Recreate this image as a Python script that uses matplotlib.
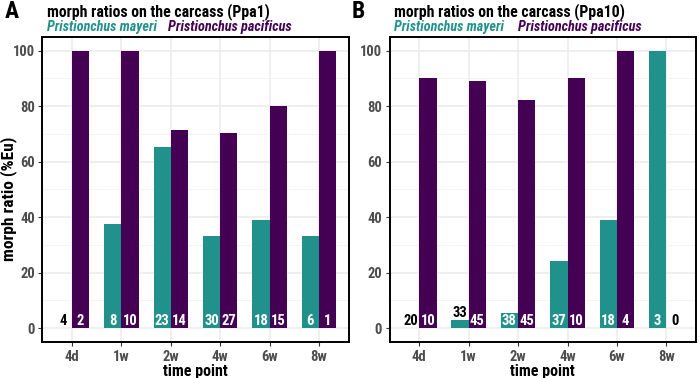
"""Morph ratios on the carcass, two panels (Ppa1 / Ppa10)."""

import matplotlib
matplotlib.use("Agg")

import matplotlib.pyplot as plt
from matplotlib import font_manager
from matplotlib.font_manager import FontProperties

# Data
time_points = ["4d", "1w", "2w", "4w", "6w", "8w"]

ppa1_mayeri = [0, 37.5, 65.2, 33.3, 38.9, 33.3]
ppa1_pacificus = [100, 100, 71.4, 70.4, 80, 100]
ppa1_mayeri_n = [4, 8, 23, 30, 18, 6]
ppa1_pacificus_n = [2, 10, 14, 27, 15, 1]

ppa10_mayeri = [0, 3.0, 5.3, 24.3, 38.9, 100]
ppa10_pacificus = [90, 88.9, 82.2, 90, 100, 0]
ppa10_mayeri_n = [20, 33, 38, 37, 18, 3]
ppa10_pacificus_n = [10, 45, 45, 10, 4, 0]

TEAL = "#21918C"
PURPLE = "#440154"


def find_font(italic):
    """Look for an installed condensed/narrow bold face."""
    found = {}
    for f in font_manager.fontManager.ttflist:
        tag = (f.name + " " + f.fname)
        cond = ("Narrow" in tag or "Condensed" in tag
                or f.stretch in ("condensed", "semi-condensed"))
        if not cond:
            continue
        w = f.weight if isinstance(f.weight, int) else (700 if "bold" in str(f.weight).lower() else 400)
        if w < 600 or "Bold" not in f.fname and w < 700:
            continue
        if "Semi" in f.fname or "Extra" in f.fname or "Light" in f.fname:
            continue
        if (f.style in ("italic", "oblique")) != italic:
            continue
        found.setdefault(f.name, f.fname)
    for pref in ("Liberation Sans Narrow", "Roboto Condensed", "DejaVu Sans",
                 "Open Sans Condensed"):
        if pref in found:
            return found[pref]
    return next(iter(found.values()), None)


BOLD_FILE = find_font(False)
ITAL_FILE = find_font(True)


def fp(size, italic=False):
    path = ITAL_FILE if italic else BOLD_FILE
    if path:
        return FontProperties(fname=path, size=size)
    return FontProperties(family="DejaVu Sans", weight="bold",
                          style="italic" if italic else "normal", size=size)


W, H = 699, 378
fig = plt.figure(figsize=(W / 100, H / 100), dpi=100)
renderer = fig.canvas.get_renderer()


def fit(t, width_px):
    """Scale a text's font size so it spans the given pixel width."""
    bb = t.get_window_extent(renderer)
    t.set_fontsize(t.get_fontsize() * width_px / bb.width)


def px(x0, y0, x1, y1):
    return [x0 / W, 1 - y1 / H, (x1 - x0) / W, (y1 - y0) / H]


def panel(rect, letter, title, mayeri, pacificus, m_n, p_n, left_px, leg2_px, tw):
    ax = fig.add_axes(rect)
    x = list(range(1, len(time_points) + 1))
    bw = 0.35
    ax.bar([i - bw / 2 for i in x], mayeri, width=bw, color=TEAL, zorder=2)
    ax.bar([i + bw / 2 for i in x], pacificus, width=bw, color=PURPLE, zorder=2)

    # count labels at the foot of each bar
    for i, v, n in zip(x, mayeri, m_n):
        if v == 0:
            y, col = 2.4, "black"
        elif v < 4:
            y, col = v + 2.6, "black"
        else:
            y, col = 2.4, "white"
        ax.text(i - bw / 2, y, str(n), color=col, ha="center", va="center",
                fontproperties=fp(10.5), zorder=3)
    for i, v, n in zip(x, pacificus, p_n):
        col = "white" if v >= 4 else "black"
        ax.text(i + bw / 2, 2.4, str(n), color=col, ha="center", va="center",
                fontproperties=fp(10.5), zorder=3)

    ax.set_xlim(0.4, 6.6)
    ax.set_ylim(-5, 105)
    ax.set_xticks(x)
    ax.set_xticklabels(time_points)
    ax.set_yticks([0, 20, 40, 60, 80, 100])
    ax.set_yticks([10, 30, 50, 70, 90], minor=True)
    ax.grid(True, which="major", color="#EBEBEB", linewidth=1.1, zorder=0)
    ax.grid(True, which="minor", axis="y", color="#F2F2F2", linewidth=0.6, zorder=0)
    ax.set_axisbelow(True)
    ax.tick_params(axis="both", which="major", length=3, color="#333333",
                   labelcolor="#4D4D4D", width=0.8, pad=2.5)
    ax.tick_params(axis="y", which="minor", length=0)
    for lab in ax.get_xticklabels() + ax.get_yticklabels():
        lab.set_fontproperties(fp(10.5))
    for sp in ax.spines.values():
        sp.set_linewidth(1.4)
        sp.set_color("black")
    ax.set_xlabel("time point", fontproperties=fp(11.5), labelpad=0)

    fig.text((left_px - 38) / W, 1 - 12 / H, letter, fontproperties=fp(17),
             ha="left", va="center")
    t = fig.text((left_px + 4.5) / W, 1 - 12 / H, title, fontproperties=fp(13),
                 ha="left", va="center")
    fit(t, tw)
    t = fig.text((left_px + 4.5) / W, 1 - 27 / H, "Pristionchus mayeri",
                 fontproperties=fp(11, True), color=TEAL, ha="left", va="center")
    fit(t, 110)
    t = fig.text(leg2_px / W, 1 - 27 / H, "Pristionchus pacificus",
                 fontproperties=fp(11, True), color=PURPLE, ha="left", va="center")
    fit(t, 123)
    return ax


ax1 = panel(px(42.4, 36.7, 348.6, 342), "A", "morph ratios on the carcass (Ppa1)",
            ppa1_mayeri, ppa1_pacificus, ppa1_mayeri_n, ppa1_pacificus_n,
            42.4, 168, 223)
ax1.set_ylabel("morph ratio (%Eu)", fontproperties=fp(12.5))
ax1.yaxis.set_label_coords(-0.083, 0.47)

ax2 = panel(px(389.6, 36.7, 696, 342), "B", "morph ratios on the carcass (Ppa10)",
            ppa10_mayeri, ppa10_pacificus, ppa10_mayeri_n, ppa10_pacificus_n,
            389.6, 518, 230)

fig.savefig("out.png", dpi=100, facecolor="white")
